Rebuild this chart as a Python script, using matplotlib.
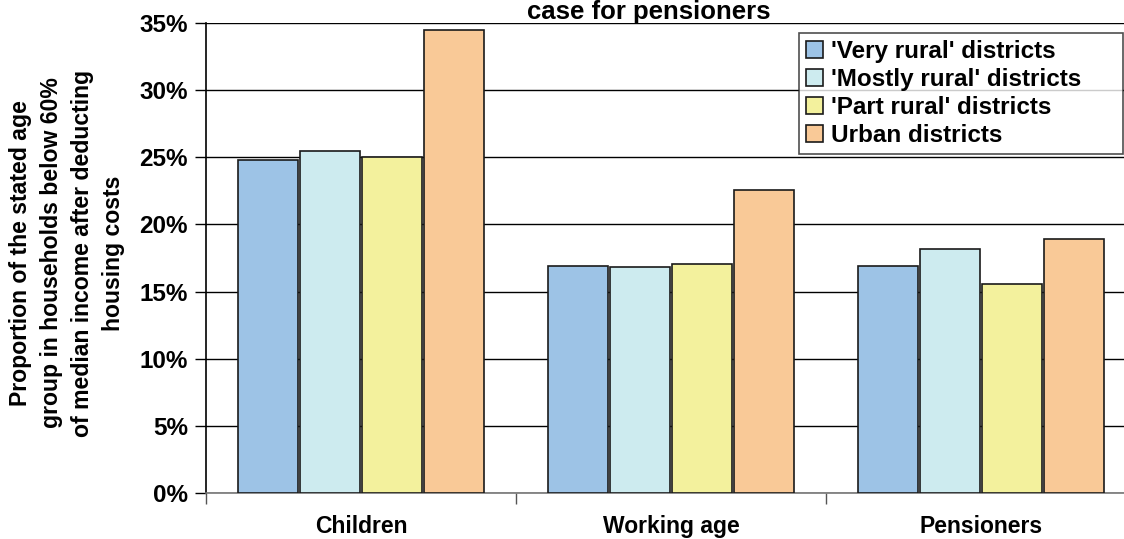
import numpy as np
import matplotlib.pyplot as plt
from matplotlib.ticker import FixedLocator, FuncFormatter

plt.rcParams['font.family'] = ['Liberation Sans', 'DejaVu Sans']
plt.rcParams['font.weight'] = 'bold'

groups = ["Children", "Working age", "Pensioners"]
series = ["'Very rural' districts", "'Mostly rural' districts",
          "'Part rural' districts", "Urban districts"]
very_rural = [24.8, 16.9, 16.9]
mostly_rural = [25.5, 16.8, 18.2]
part_rural = [25.0, 17.05, 15.6]
urban = [34.5, 22.6, 18.9]
colors = ['#9dc3e6', '#cdebef', '#f3f19d', '#f9c997']

values = [very_rural, mostly_rural, part_rural, urban]

fig = plt.figure(figsize=(11.24, 5.39), dpi=100)
ax = fig.add_axes([206 / 1124, 1 - 493 / 539, 930 / 1124, 470 / 539])

x = np.arange(len(groups))
w = 0.2
for i, (vals, c, lab) in enumerate(zip(values, colors, series)):
    ax.bar(x + (i - 1.5) * w, vals, width=w * 0.97, color=c,
           edgecolor='#1a1a1a', linewidth=1.2, label=lab, zorder=3)

ax.set_xlim(-0.5, 2.5)
ax.set_ylim(0, 35)
ax.set_yticks(np.arange(0, 36, 5))
ax.yaxis.set_major_formatter(FuncFormatter(lambda v, p: f"{v:.0f}%"))
ax.grid(axis='y', color='black', linewidth=1.0, zorder=0)
ax.set_xticks(x)
ax.set_xticklabels(groups, fontsize=16.5, fontweight='bold')
ax.xaxis.set_minor_locator(FixedLocator([-0.5, 0.5, 1.5, 2.5]))
ax.tick_params(axis='x', which='major', length=0, pad=16)
ax.tick_params(axis='x', which='minor', length=8, width=1, color='#555555')
ax.tick_params(axis='y', length=8, width=1, labelsize=17.5, pad=5)
for t in ax.get_yticklabels():
    t.set_fontweight('bold')

ax.spines['top'].set_visible(False)
ax.spines['right'].set_visible(False)
ax.spines['left'].set_color('black')
ax.spines['left'].set_linewidth(1.2)
ax.spines['bottom'].set_color('#777777')
ax.spines['bottom'].set_linewidth(1.2)

leg = ax.legend(loc='upper left',
                bbox_to_anchor=(799 / 1124, 1 - 153 / 539, 324 / 1124, 120 / 539),
                bbox_transform=fig.transFigure, mode='expand', fontsize=17.5,
                frameon=True, fancybox=False, edgecolor='#222222',
                handlelength=0.7, handleheight=0.7, handletextpad=0.3,
                labelspacing=0.2, borderpad=0.3, borderaxespad=0)
leg.get_frame().set_linewidth(1.2)
for t in leg.get_texts():
    t.set_fontweight('bold')

fig.text(67 / 1124, 1 - 253 / 539,
         "Proportion of the stated age\ngroup in households below 60%\n"
         "of median income after deducting\nhousing costs",
         rotation=90, ha='center', va='center', fontsize=16.6,
         fontweight='bold', linespacing=1.45)

fig.text(649 / 1124, 1 - 19 / 539, "case for pensioners", ha='center',
         va='baseline', fontsize=18.5, fontweight='bold')

fig.savefig('out.png', dpi=100)
